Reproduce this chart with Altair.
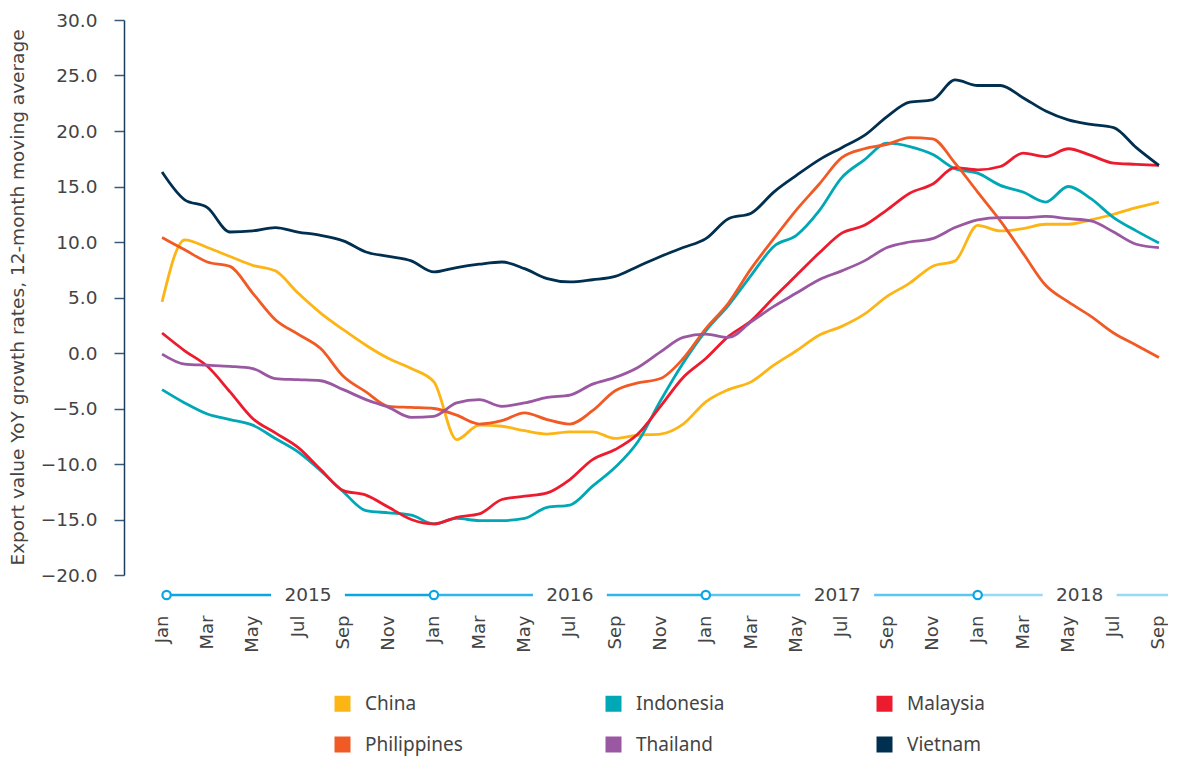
import altair as alt
import pandas as pd

# ---------------- data ----------------
month_names = ["Jan", "Feb", "Mar", "Apr", "May", "Jun", "Jul", "Aug", "Sep", "Oct", "Nov", "Dec"]
month_index = list(range(45))  # Jan 2015 .. Sep 2018

china = [4.6, 10.2, 9.5, 8.7, 7.9, 7.4, 5.4, 3.6, 2.1, 0.7, -0.5, -1.4,
         -2.6, -7.8, -6.5, -6.6, -7.0, -7.3, -7.1, -7.1, -7.7, -7.4, -7.3, -6.4,
         -4.4, -3.3, -2.6, -1.1, 0.2, 1.6, 2.4, 3.5, 5.1, 6.3, 7.8, 8.3,
         11.5, 11.0, 11.2, 11.6, 11.6, 12.0, 12.5, 13.1, 13.6]
indonesia = [-3.3, -4.5, -5.5, -6.0, -6.5, -7.7, -8.9, -10.6, -12.5, -14.2, -14.4, -14.6,
             -15.4, -14.9, -15.1, -15.1, -14.9, -13.9, -13.7, -12.0, -10.3, -8.0, -4.3, -0.9,
             2.0, 4.3, 7.0, 9.6, 10.6, 12.8, 15.8, 17.4, 18.9, 18.6, 17.9, 16.6,
             16.2, 15.1, 14.5, 13.6, 15.0, 13.9, 12.2, 11.0, 9.9]
malaysia = [1.8, 0.2, -1.2, -3.5, -5.9, -7.2, -8.5, -10.5, -12.4, -12.8, -13.9, -15.0,
            -15.4, -14.8, -14.5, -13.2, -12.9, -12.6, -11.4, -9.6, -8.7, -7.3, -4.8, -2.2,
            -0.5, 1.5, 2.9, 5.0, 7.0, 9.0, 10.8, 11.5, 12.9, 14.4, 15.2, 16.7,
            16.5, 16.8, 18.0, 17.7, 18.4, 17.8, 17.1, 17.0, 16.9]
philippines = [10.4, 9.3, 8.2, 7.8, 5.4, 3.0, 1.7, 0.4, -2.1, -3.5, -4.8, -4.9,
               -5.0, -5.6, -6.4, -6.1, -5.4, -6.0, -6.4, -5.2, -3.4, -2.7, -2.3, -0.5,
               2.2, 4.5, 7.6, 10.3, 12.9, 15.2, 17.6, 18.4, 18.8, 19.4, 19.3, 17.1,
               14.5, 11.9, 9.0, 6.1, 4.6, 3.3, 1.8, 0.7, -0.4]
thailand = [-0.1, -1.0, -1.1, -1.2, -1.4, -2.3, -2.4, -2.5, -3.3, -4.2, -4.9, -5.8,
            -5.7, -4.5, -4.2, -4.8, -4.5, -4.0, -3.8, -2.8, -2.2, -1.3, 0.1, 1.4,
            1.7, 1.4, 2.8, 4.2, 5.4, 6.6, 7.4, 8.3, 9.5, 10.0, 10.3, 11.3,
            12.0, 12.2, 12.2, 12.3, 12.1, 11.9, 10.9, 9.8, 9.5]
vietnam = [16.3, 13.8, 13.1, 10.9, 11.0, 11.3, 10.9, 10.6, 10.1, 9.1, 8.7, 8.3,
           7.3, 7.7, 8.0, 8.2, 7.6, 6.7, 6.4, 6.6, 6.9, 7.8, 8.7, 9.5,
           10.3, 12.1, 12.6, 14.5, 16.0, 17.4, 18.5, 19.6, 21.3, 22.6, 22.8, 24.6,
           24.1, 24.1, 23.0, 21.8, 21.0, 20.6, 20.3, 18.5, 16.9]

countries = ["China", "Indonesia", "Malaysia", "Philippines", "Thailand", "Vietnam"]
series = [china, indonesia, malaysia, philippines, thailand, vietnam]
line_colors = ["#FDB515", "#00A8B5", "#EC1C2E", "#F15A24", "#9A57A2", "#002F50"]

year_labels = ["2015", "2016", "2017", "2018"]
year_label_pos = [6.44, 18.0, 29.8, 40.5]
year_start_pos = [0.2, 12, 24, 36]
year_colors = ["#0AA6E4", "#2DB6EC", "#5BC6F1", "#98D9F5"]

y_ticks = [-20, -15, -10, -5, 0, 5, 10, 15, 20, 25, 30]
x_ticks = list(range(0, 45, 2))

# ---------------- tables ----------------
rows = []
for name, vals in zip(countries, series):
    for m, v in zip(month_index, vals):
        rows.append({"country": name, "m": m, "v": v})
df = pd.DataFrame(rows)

x_min, x_max = -1.68, 44.4
gap = 1.63
seg_rows = []
ends = year_start_pos[1:] + [x_max]
for yl, pos, start, end, col in zip(year_labels, year_label_pos, year_start_pos, ends, year_colors):
    seg_rows.append({"m": start, "b": pos - gap, "c": col})
    seg_rows.append({"m": pos + gap, "b": end, "c": col})
seg_df = pd.DataFrame(seg_rows)
year_df = pd.DataFrame({"m": year_label_pos, "label": year_labels})
circ_df = pd.DataFrame({"m": year_start_pos})

label_expr = "[" + ",".join("'%s'" % s for s in month_names) + "][datum.value % 12]"

AX_FONT = "DejaVu Sans"
TXT = "#444444"

x_scale = alt.Scale(domain=[x_min, x_max], nice=False, zero=False)
y_scale = alt.Scale(domain=[-20, 30], nice=False, zero=False)

x_axis = alt.Axis(
    values=x_ticks, labelExpr=label_expr, labelAngle=270, labelAlign="right",
    labelBaseline="middle", labelPadding=40, ticks=False, tickSize=0, domain=False,
    grid=False, title=None, labelFont=AX_FONT, labelFontSize=18, labelColor=TXT,
    labelOverlap=False)

x_enc = alt.X("m:Q", scale=x_scale, axis=x_axis, title=None)

lines = alt.Chart(df).mark_line(strokeWidth=2.8, interpolate="monotone").encode(
    x=x_enc,
    y=alt.Y("v:Q", scale=y_scale, axis=alt.Axis(
        values=y_ticks, format=".1f", grid=False, domainColor="#1D3C5E", domainWidth=1.5,
        tickColor="#3A5A7A", tickSize=10, tickWidth=1.5, labelPadding=17,
        labelFont=AX_FONT, labelFontSize=18.5, labelColor=TXT,
        title="Export value YoY growth rates, 12-month moving average",
        titleFont=AX_FONT, titleFontSize=18.5, titleFontWeight="normal", titleColor=TXT,
        titleAngle=270, titleX=-107, titleY=277, titleAlign="center", titleBaseline="middle")),
    color=alt.Color("country:N", scale=alt.Scale(domain=countries, range=line_colors),
                    legend=alt.Legend(
                        orient="none", legendX=209, legendY=674, columns=3,
                        direction="horizontal",
                        symbolType="square", symbolSize=64, symbolStrokeWidth=8,
                        labelFont="Noto Sans", labelFontSize=19, labelColor=TXT,
                        labelOffset=13, columnPadding=130, rowPadding=0,
                        gridAlign="all", title=None)),
)

segs = alt.Chart(seg_df).mark_rule(strokeWidth=2.5).encode(
    x=x_enc,
    x2="b:Q",
    y=alt.value(575),
    color=alt.Color("c:N", scale=None),
)

circles = alt.Chart(circ_df).mark_point(filled=True, size=70, fill="white",
                                         stroke="#0AA6E4", strokeWidth=2.2, opacity=1).encode(
    x=x_enc,
    y=alt.value(575),
)

years = alt.Chart(year_df).mark_text(font=AX_FONT, fontSize=18.5, color=TXT,
                                     align="center", baseline="middle").encode(
    x=x_enc,
    y=alt.value(575),
    text="label:N",
)

chart = alt.layer(lines, segs, circles, years).properties(
    width=1044, height=555,
    autosize=alt.AutoSizeParams(type="none"),
    padding={"left": 116, "top": 12, "right": 0, "bottom": 183},
).configure_view(strokeWidth=0)

chart.save("out.html", embed_options={"renderer": "svg", "actions": False})
